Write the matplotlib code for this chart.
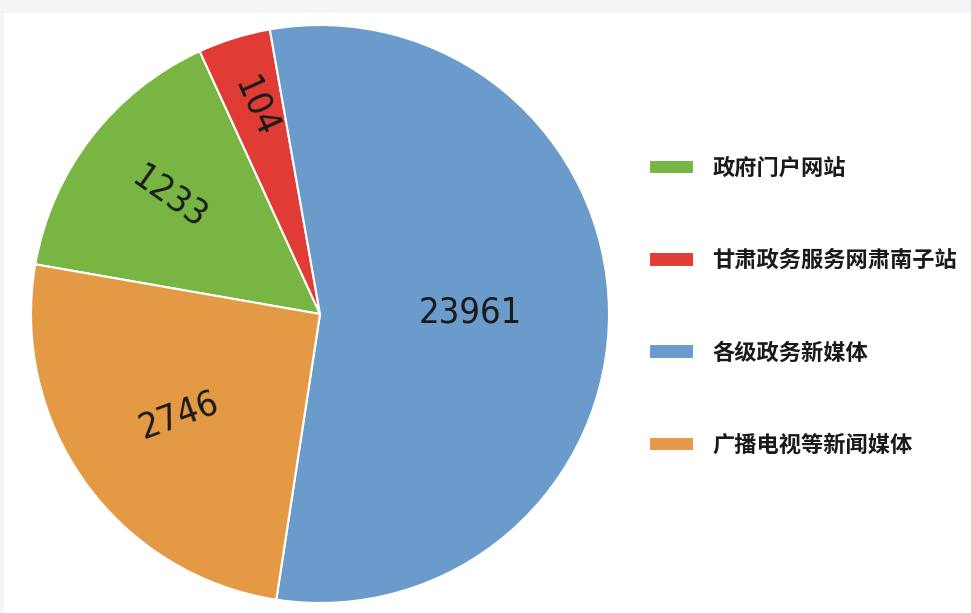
import numpy as np
import matplotlib.pyplot as plt
from matplotlib.patches import Rectangle

plt.rcParams['font.family'] = ['Noto Sans CJK SC', 'DejaVu Sans']

categories = ["政府门户网站", "甘肃政务服务网肃南子站", "各级政务新媒体", "广播电视等新闻媒体"]
counts = [1233, 104, 23961, 2746]
# slice sizes as drawn in the picture (degrees of the circle)
slice_deg = [55.5, 14.6, 198.7, 91.2]
colors = ["#79b543", "#e03c35", "#6b9bcb", "#e49a45"]

label_dist = [0.66, 0.75, 0.52, 0.60]
label_rot = [-35, -66, 0, 20]

fig = plt.figure(figsize=(9.71, 6.13), dpi=100, facecolor="#f4f5f6")
fig.patches.append(Rectangle((4 / 971, 0), 1, (613 - 13) / 613, transform=fig.transFigure,
                             facecolor="white", edgecolor="none", zorder=-10))

cx, cy, r = 320, 314, 289
ax = fig.add_axes([(cx - r) / 971, (613 - cy - r) / 613, 2 * r / 971, 2 * r / 613])
ax.set_facecolor("none")

wedges, _ = ax.pie(slice_deg, colors=colors, startangle=90 - 279.9, counterclock=False,
                   wedgeprops=dict(edgecolor="white", linewidth=1.5))
ax.set_xlim(-1, 1)
ax.set_ylim(-1, 1)
ax.set_aspect("auto")

for w, c, d, rot in zip(wedges, counts, label_dist, label_rot):
    ang = np.deg2rad((w.theta1 + w.theta2) / 2)
    ax.text(d * np.cos(ang), d * np.sin(ang), str(c), ha="center", va="center",
            rotation=rot, rotation_mode="anchor", fontsize=26, color="#1a1a1a",
            family=["DejaVu Sans"], fontstretch="condensed")

leg = ax.legend(wedges, categories, loc="upper left", bbox_to_anchor=(609 / 578, 1 - 123 / 578),
                frameon=False, fontsize=16, handlelength=2.05, handleheight=0.64,
                labelspacing=3.12, handletextpad=0.8, borderaxespad=0)
for t in leg.get_texts():
    t.set_color("#1a1a1a")
    t.set_fontweight("semibold")

fig.savefig("out.png", dpi=100, facecolor=fig.get_facecolor())
